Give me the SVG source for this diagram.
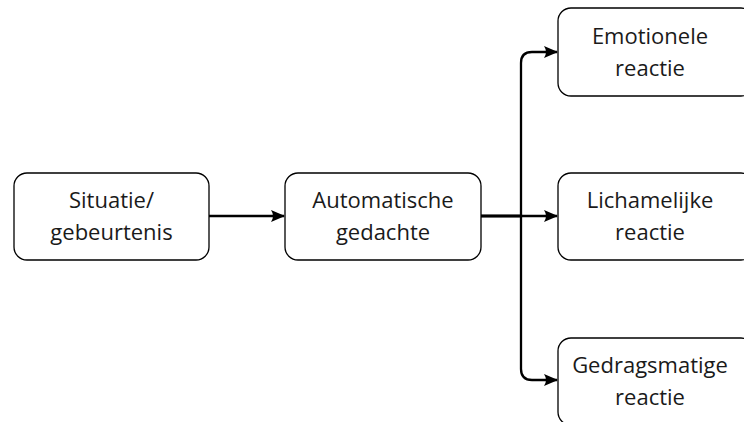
<svg xmlns="http://www.w3.org/2000/svg" width="744" height="422" viewBox="0 0 744 422">
<defs>
<style>
.box{fill:#fff;stroke:#000;stroke-width:1.3}
.t{font-family:"Open Sans","Noto Sans",sans-serif;font-size:22px;fill:#1a1a1a;text-anchor:middle}
.c{fill:none;stroke:#000;stroke-width:2.3}
</style>
<marker id="ah" viewBox="0 0 14 12" refX="13" refY="6" markerWidth="14" markerHeight="12" orient="auto" markerUnits="userSpaceOnUse">
<path d="M0,0 L14,6 L0,12 Q4,6 0,0 Z" fill="#000"/>
</marker>
</defs>
<rect width="744" height="422" fill="#fff"/>
<g id="connectors">
<path class="c" d="M209,216 H284" marker-end="url(#ah)"/>
<path class="c" d="M481,216 H557" marker-end="url(#ah)"/>
<path class="c" d="M481,216 H521 V63 Q521,52 532,52 H557" marker-end="url(#ah)"/>
<path class="c" d="M481,216 H521 V369 Q521,380 532,380 H557" marker-end="url(#ah)"/>
</g>
<g id="n1"><rect class="box" x="14" y="173" width="195" height="87" rx="13"/>
<text class="t" x="111.5" y="208">Situatie/</text><text class="t" x="111.5" y="240">gebeurtenis</text></g>
<g id="n2"><rect class="box" x="285" y="173" width="196" height="87" rx="13"/>
<text class="t" x="383" y="208">Automatische</text><text class="t" x="383" y="240">gedachte</text></g>
<g id="n3"><rect class="box" x="558" y="8" width="196" height="88" rx="13"/>
<text class="t" x="650" y="44">Emotionele</text><text class="t" x="650" y="76">reactie</text></g>
<g id="n4"><rect class="box" x="558" y="173" width="196" height="87" rx="13"/>
<text class="t" x="650" y="208">Lichamelijke</text><text class="t" x="650" y="240">reactie</text></g>
<g id="n5"><rect class="box" x="558" y="338" width="196" height="87" rx="13"/>
<text class="t" x="650" y="373">Gedragsmatige</text><text class="t" x="650" y="405">reactie</text></g>
</svg>
